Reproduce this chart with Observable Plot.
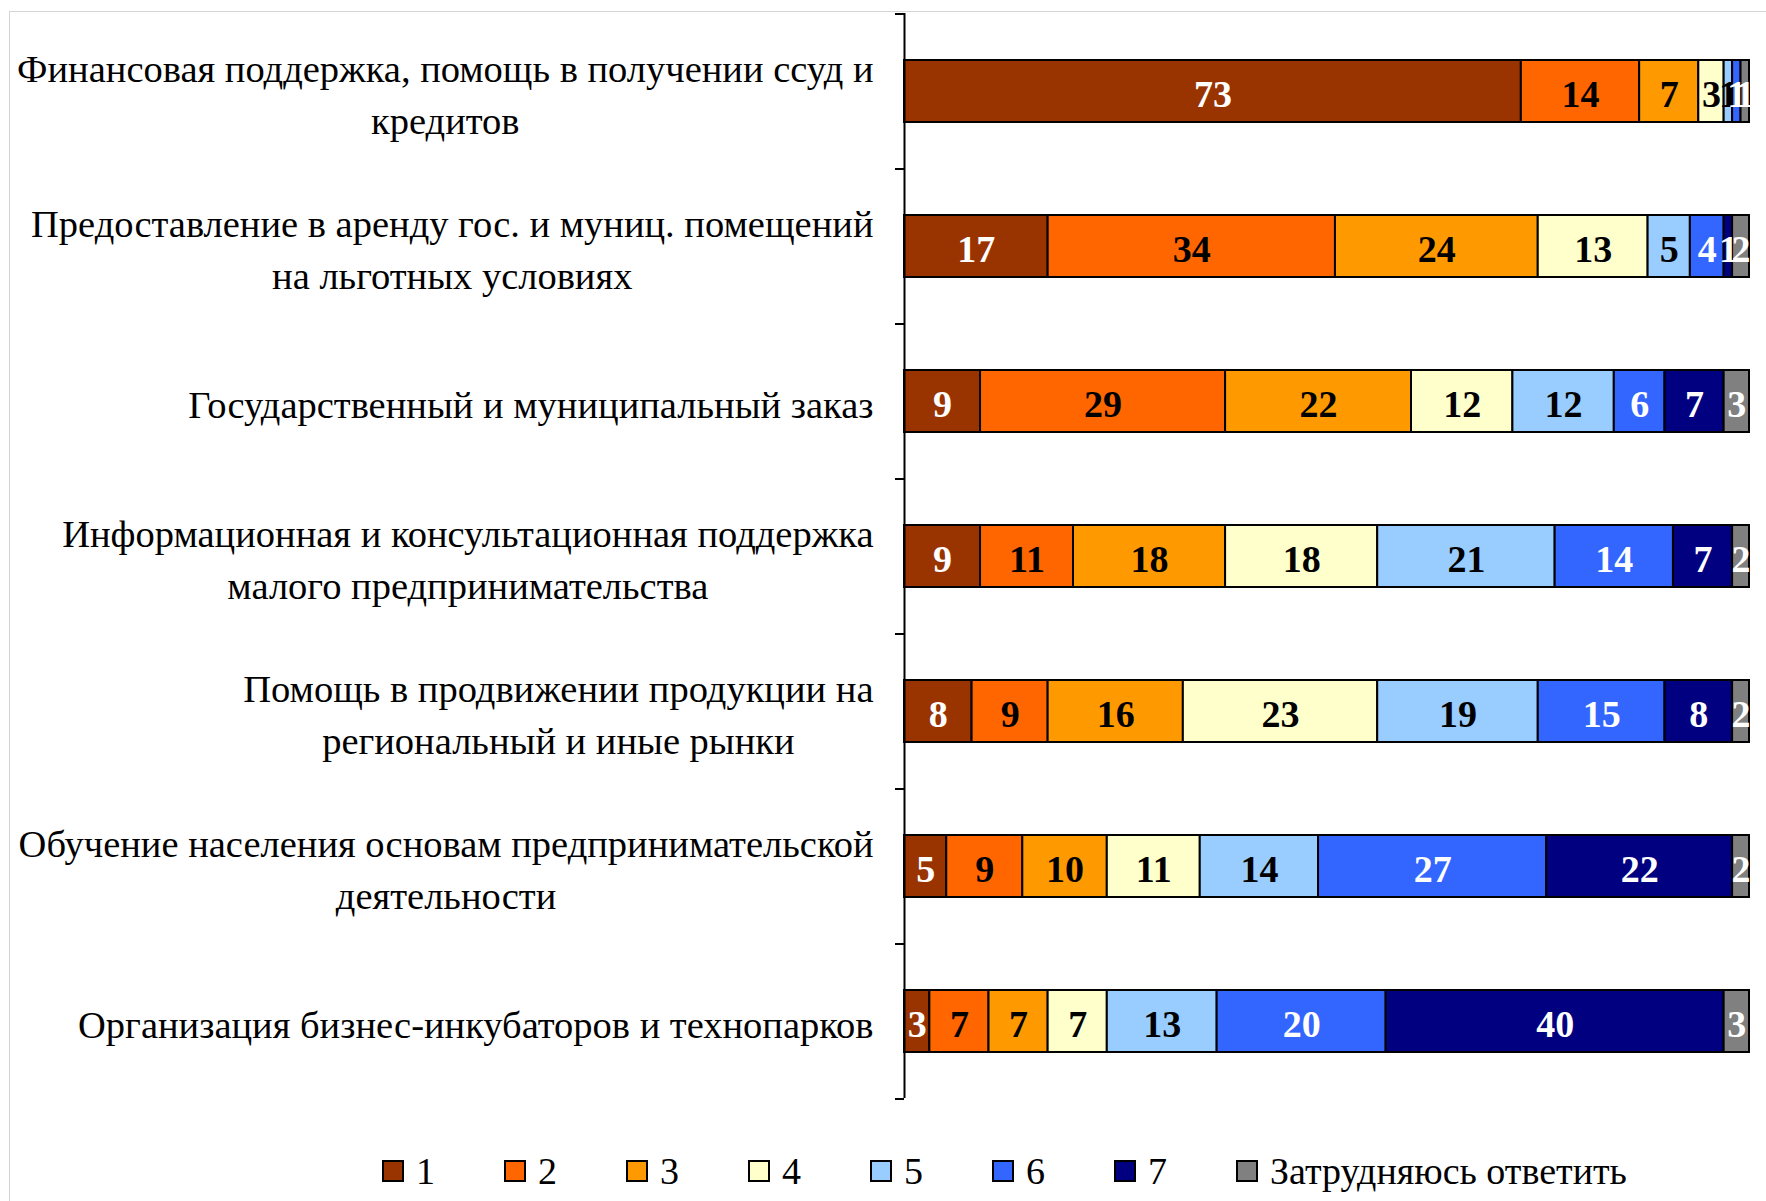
<!DOCTYPE html>
<html><head><meta charset="utf-8">
<script src="https://cdn.jsdelivr.net/npm/d3@7"></script>
<script src="https://cdn.jsdelivr.net/npm/@observablehq/plot@0.6"></script>
<style>
body{margin:0;background:#fff;width:1766px;height:1201px;overflow:hidden;position:relative;font-family:"Liberation Serif",serif}
#frame{position:absolute;left:9px;top:11px;width:1800px;height:1300px;border:1.5px solid #d4d4d4;box-sizing:border-box}
#chart{position:absolute;left:0;top:0}
#legend{position:absolute;left:383px;top:1149px}
#legend .lg-swatches{font-family:"Liberation Serif",serif !important;font-size:38px !important;color:#000 !important}
#legend .lg-swatch{margin-right:70px !important}
#legend .lg-swatch > svg{margin-right:13px !important;overflow:visible}
#legend .lg-swatch rect{stroke:#000;stroke-width:2px}
</style></head>
<body>
<div id="frame"></div>
<div id="chart"></div>
<div id="legend"></div>
<script>
const categories = [
  "Финансовая поддержка, помощь в получении ссуд и\nкредитов",
  "Предоставление в аренду гос. и муниц. помещений\nна льготных условиях",
  "Государственный и муниципальный заказ",
  "Информационная и консультационная поддержка\nмалого предпринимательства",
  "Помощь в продвижении продукции на\nрегиональный и иные рынки",
  "Обучение населения основам предпринимательской\nдеятельности",
  "Организация бизнес-инкубаторов и технопарков"
];
const seriesNames = ["1","2","3","4","5","6","7","Затрудняюсь ответить"];
const colors = ["#993300","#FF6600","#FF9900","#FFFFCC","#99CCFF","#3366FF","#000080","#808080"];
const whiteLabelSeries = ["1","6","7","Затрудняюсь ответить"];
const values = [
  [73,14,7,3,1,1,0,1],
  [17,34,24,13,5,4,1,2],
  [9,29,22,12,12,6,7,3],
  [9,11,18,18,21,14,7,2],
  [8,9,16,23,19,15,8,2],
  [5,9,10,11,14,27,22,2],
  [3,7,7,7,13,20,40,3]
];
const rows = categories.flatMap((c,i)=>seriesNames.map((s,j)=>({category:c, series:s, value:values[i][j]})));

const W=1766, H=1125, mt=13, mb=27, ml=904, mr=17;
const n = categories.length;
const step = (H-mt-mb)/n;
const labelFont = 38;

const labelMark = (white) => Plot.text(rows, Plot.filter(
  d => d.value > 0 && whiteLabelSeries.includes(d.series) === white,
  Plot.stackX({x:"value", y:"category", z:"series", text:d=>String(d.value),
    fill: white ? "#fff" : "#000", fontSize:labelFont, fontWeight:"bold", fontFamily:"Liberation Serif", dy:3})
));

const plot = Plot.plot({
  width:W, height:H, marginTop:mt, marginBottom:mb, marginLeft:ml, marginRight:mr,
  style:{fontFamily:"Liberation Serif", background:"transparent", overflow:"visible", color:"#000"},
  x:{domain:[0,100], axis:null},
  y:{domain:categories, paddingInner:0.6, paddingOuter:0.3, label:null, axis:null},
  color:{domain:seriesNames, range:colors},
  marks:[
    Plot.barX(rows, Plot.stackX({x:"value", y:"category", fill:"series", stroke:"#000", strokeWidth:2})),
    labelMark(false),
    labelMark(true),
    Plot.ruleX([0], {stroke:"#000", strokeWidth:2}),
    Plot.axisY({tickSize:0, tickPadding:31, fontSize:38.5, lineHeight:1.36, label:null, fill:"#000"}),
    Plot.axisY({ticks:categories, tickSize:9, tickFormat:()=>"", dy:-step/2, strokeWidth:2, stroke:"#000", label:null}),
    Plot.axisY({ticks:[categories[n-1]], tickSize:9, tickFormat:()=>"", dy:step/2, strokeWidth:2, stroke:"#000", label:null})
  ]
});
document.getElementById("chart").appendChild(plot);

// center multi-line category labels within their own block (as in the source chart)
plot.querySelectorAll('g[aria-label="y-axis tick label"] text').forEach(t=>{
  if (t.querySelectorAll("tspan").length > 1) {
    const w = t.getBBox().width;
    t.setAttribute("text-anchor","middle");
    t.setAttribute("transform", (t.getAttribute("transform")||"") + ` translate(${-w/2},0)`);
  }
});

const legend = Plot.legend({color:{domain:seriesNames, range:colors}, swatchSize:20, className:"lg"});
document.getElementById("legend").appendChild(legend);
</script>
</body></html>
